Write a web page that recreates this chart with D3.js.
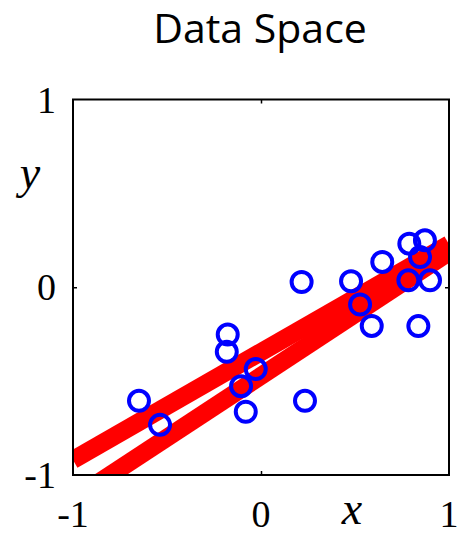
<html>
<meta charset="utf-8">
<script src="https://d3js.org/d3.v7.min.js"></script>
<style>
body{
  margin: 0;
  background-color: white;
}
.frame{
  fill: none;
  stroke: black;
  stroke-width: 2;
}
.tickLabel{
  font-family: "Liberation Serif", serif;
  font-size: 38px;
}
.axLabel{
  font-family: "Liberation Serif", serif;
  font-style: italic;
  font-size: 46px;
}
</style>
<body>
<div id="chartDiv"></div>
<script>
// points
var xs = [-0.649,-0.537,-0.177,-0.182,-0.106,-0.081,-0.028,0.234,0.216,0.479,0.527,0.589,0.645,0.784,0.899,0.837,0.789,0.872,0.846];
var ys = [-0.605,-0.733,-0.252,-0.344,-0.527,-0.663,-0.436,-0.605,0.028,0.032,-0.092,-0.206,0.135,0.037,0.037,-0.207,0.232,0.25,0.161];

// two fitted lines, as [x0,y0,x1,y1]
var fitLines = [[-1,-0.92,1,0.229],[-1,-1.13,1,0.186]];

var tickVals = [-1,0,1];
var tickText = ["-1","0","1"];

var width = 464, height = 535;

var svg = d3.select("#chartDiv").append("svg")
  .attr("width",width).attr("height",height);

var x = d3.scaleLinear().domain([-1,1]).range([73,449]);
var y = d3.scaleLinear().domain([-1,1]).range([475,99.5]);

svg.append("text")
  .attr("x",260).attr("y",43)
  .attr("text-anchor","middle")
  .style("font-family","'Open Sans', sans-serif")
  .style("font-size","41px")
  .text("Data Space");

svg.append("clipPath").attr("id","plotClip")
  .append("rect")
  .attr("x",x(-1)).attr("y",y(1))
  .attr("width",x(1)-x(-1)).attr("height",y(-1)-y(1));

var plotG = svg.append("g").attr("clip-path","url(#plotClip)");

plotG.selectAll(".fit").data(fitLines).enter()
  .append("line")
  .attr("class","fit")
  .attr("x1",function(d){return x(d[0])})
  .attr("y1",function(d){return y(d[1])})
  .attr("x2",function(d){return x(d[2])})
  .attr("y2",function(d){return y(d[3])})
  .style("stroke","#ff0000")
  .style("stroke-width",18);

plotG.selectAll(".pt").data(xs).enter()
  .append("circle")
  .attr("class","pt")
  .attr("cx",function(d){return x(d)})
  .attr("cy",function(d,i){return y(ys[i])})
  .attr("r",10)
  .style("fill","none")
  .style("stroke","#0000ff")
  .style("stroke-width",4);

// frame with small inside ticks
svg.append("rect").attr("class","frame")
  .attr("x",x(-1)).attr("y",y(1))
  .attr("width",x(1)-x(-1)).attr("height",y(-1)-y(1));

var axB = d3.axisBottom(x).tickValues([0]).tickSize(-4).tickFormat("");
var axT = d3.axisTop(x).tickValues([0]).tickSize(-4).tickFormat("");
var axL = d3.axisLeft(y).tickValues([0]).tickSize(-4).tickFormat("");
var axR = d3.axisRight(y).tickValues([0]).tickSize(-4).tickFormat("");
[[axB,"translate(0,"+y(-1)+")"],[axT,"translate(0,"+y(1)+")"],[axL,"translate("+x(-1)+",0)"],[axR,"translate("+x(1)+",0)"]].forEach(function(a){
  var g = svg.append("g").attr("transform",a[1]).call(a[0]);
  g.select(".domain").remove();
  g.selectAll("line").style("stroke","black").style("stroke-width",1.5);
});

svg.selectAll(".xLab").data(tickVals).enter()
  .append("text").attr("class","tickLabel xLab")
  .attr("x",function(d){return x(d)})
  .attr("y",527)
  .attr("text-anchor","middle")
  .text(function(d,i){return tickText[i]});

svg.selectAll(".yLab").data(tickVals).enter()
  .append("text").attr("class","tickLabel yLab")
  .attr("x",56)
  .attr("y",function(d){return y(d)+13})
  .attr("text-anchor","end")
  .text(function(d,i){return tickText[i]});

svg.append("text").attr("class","axLabel")
  .attr("x",352).attr("y",524)
  .attr("text-anchor","middle")
  .text("x");

svg.append("text").attr("class","axLabel")
  .attr("x",30).attr("y",188)
  .attr("text-anchor","middle")
  .text("y");
</script>
</body>
</html>
